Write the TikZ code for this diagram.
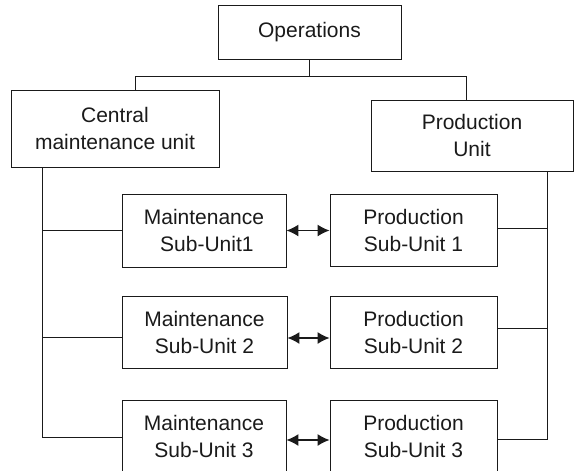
\documentclass[tikz,border=0pt]{standalone}
\usepackage{fontspec}
\setmainfont{Liberation Sans}
\usetikzlibrary{arrows.meta}
\definecolor{ink}{HTML}{1A1A1A}
\tikzset{
  box/.style={draw=ink, line width=0.9pt, inner sep=0pt, align=center, text=ink,
    font=\fontsize{21}{27}\selectfont},
  conn/.style={draw=ink, line width=0.9pt},
  twoway/.style={draw=ink, line width=1.3pt, {Latex[length=12pt,width=12pt]}-{Latex[length=12pt,width=12pt]}}
}
\begin{document}
\begin{tikzpicture}[x=1pt,y=-1pt]
\useasboundingbox (0,0) rectangle (574,471);
% boxes
\node[box, minimum width=183pt, minimum height=54pt] (ops) at (309.5,32) {\raisebox{3pt}{Operations}};
\node[box, minimum width=208pt, minimum height=77pt] (cmu) at (115,128.5) {Central\\maintenance unit};
\node[box, minimum width=202pt, minimum height=71pt] (pu) at (472,135.5) {Production\\Unit};
\node[box, minimum width=164pt, minimum height=73pt] (m1) at (204,230.5) {Maintenance\\\ Sub-Unit1};
\node[box, minimum width=167pt, minimum height=72pt] (p1) at (413.5,230) {Production\\Sub-Unit 1};
\node[box, minimum width=165pt, minimum height=72pt] (m2) at (204.5,332) {Maintenance\\Sub-Unit 2};
\node[box, minimum width=167pt, minimum height=72pt] (p2) at (413.5,332) {Production\\Sub-Unit 2};
\node[box, minimum width=164pt, minimum height=73pt] (m3) at (204,436.5) {Maintenance\\Sub-Unit 3};
\node[box, minimum width=167pt, minimum height=73pt] (p3) at (413.5,436.5) {Production\\Sub-Unit 3};
% junction coordinates
\coordinate (jl) at (135,76);
\coordinate (jr) at (466,76);
\coordinate (L) at (42,0);
\coordinate (R) at (547,0);
% top tree
\draw[conn] (ops.south) -- (ops.south |- jl);
\draw[conn] (cmu.north -| jl) -- (jl) -- (jr) -- (pu.north -| jr);
% left bus
\draw[conn] (cmu.south -| L) -- ([yshift=-0.5pt]m3.west -| L) -- ([yshift=-0.5pt]m3.west);
\draw[conn] (m1.west -| L) -- (m1.west);
\draw[conn] ([yshift=-5pt]m2.west -| L) -- ([yshift=-5pt]m2.west);
% right bus
\draw[conn] (pu.south -| R) -- ([yshift=-2.5pt]p3.east -| R) -- ([yshift=-2.5pt]p3.east);
\draw[conn] ([yshift=2pt]p1.east) -- ([yshift=2pt]p1.east -| R);
\draw[conn] ([yshift=4pt]p2.east) -- ([yshift=4pt]p2.east -| R);
% two-way arrows
\draw[twoway] (m1.east) -- (p1.west |- m1.east);
\draw[twoway] ([yshift=-6pt]m2.east) -- ([yshift=-6pt]p2.west);
\draw[twoway] ([yshift=-3.5pt]m3.east) -- ([yshift=-3.5pt]p3.west);
\end{tikzpicture}
\end{document}
